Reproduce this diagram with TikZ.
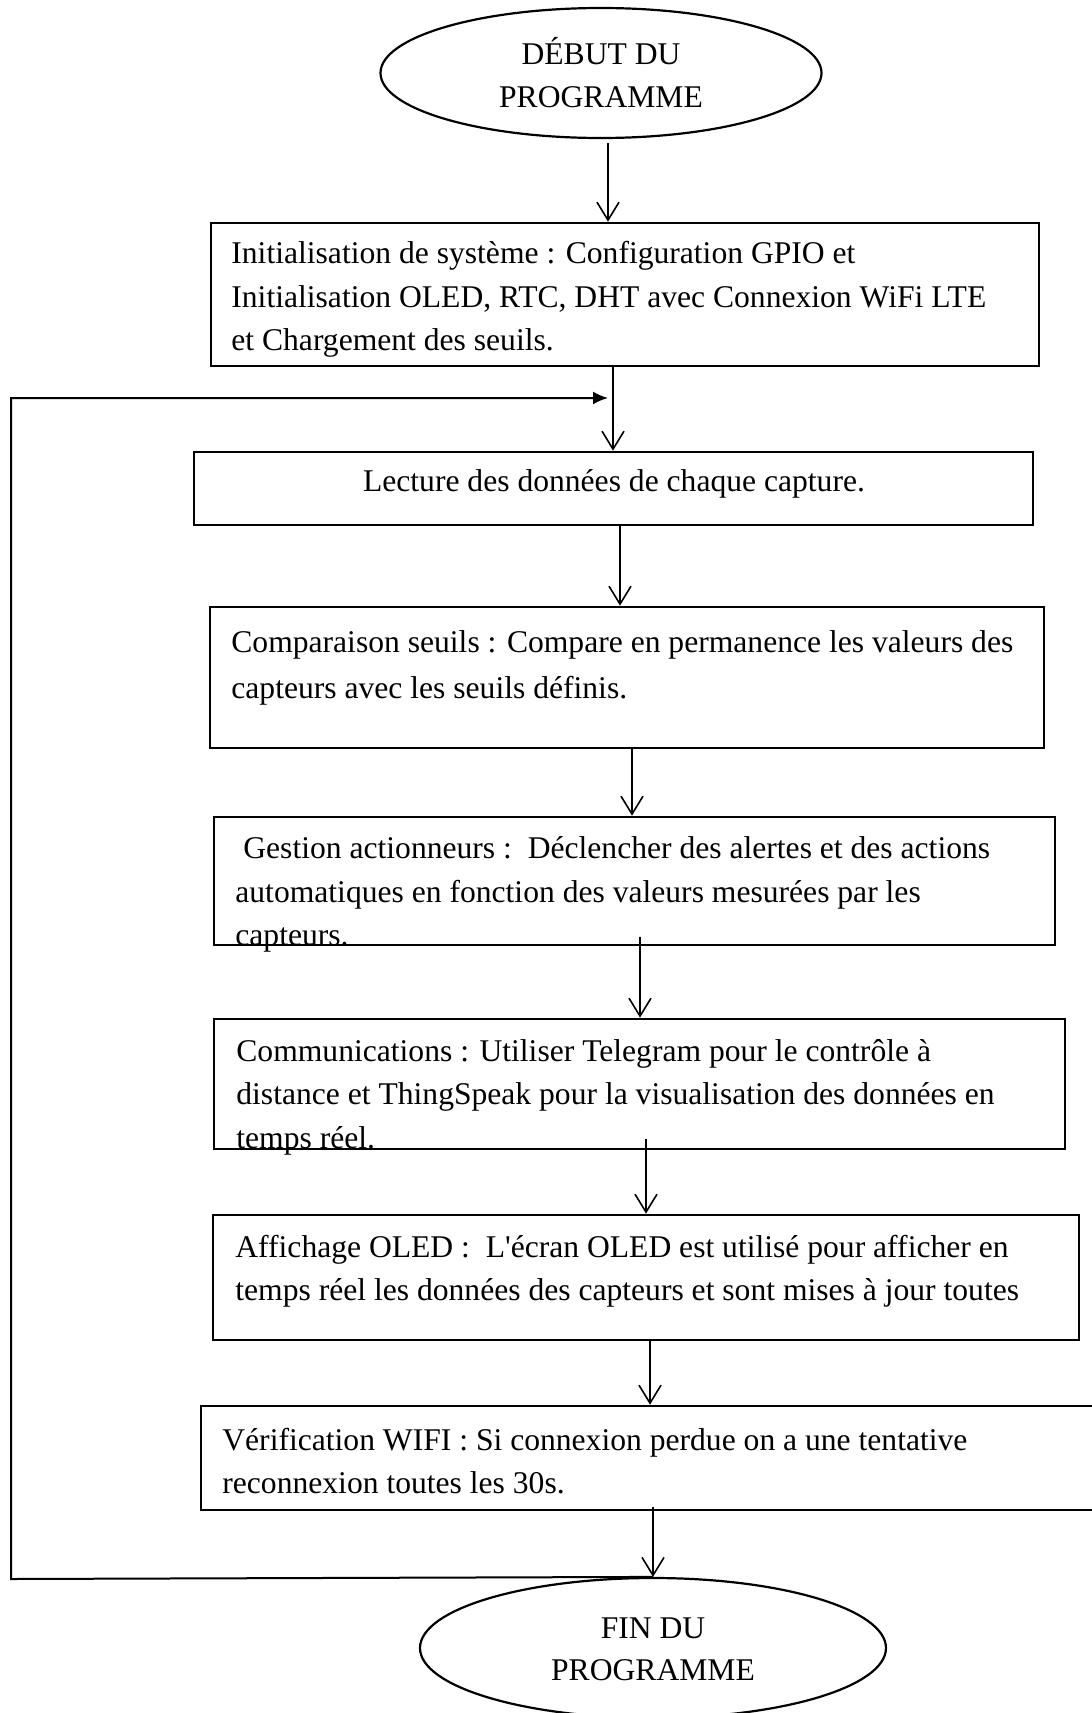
\documentclass[tikz,border=0pt]{standalone}
\usepackage{fontspec}
\setmainfont{Liberation Serif}
\usetikzlibrary{arrows.meta,shapes.geometric}

\tikzset{
  box/.style={draw, line width=1.3pt, rectangle, inner sep=0pt},
  oval/.style={draw, line width=1.1pt, ellipse, inner sep=0pt},
  txt/.style={anchor=base west, inner sep=0pt, font=\fontsize{15.8pt}{21.5pt}\selectfont},
  ctxt/.style={txt, anchor=base},
  flow/.style={line width=0.8pt, -{Straight Barb[length=9pt,width=11pt,line width=0.8pt]}},
  back/.style={line width=1pt, -{Latex[length=7.5pt,width=6.5pt]}}
}

\begin{document}
\begin{tikzpicture}[x=0.5pt, y=-0.5pt]
\useasboundingbox (0,0) rectangle (1092,1713);
\clip (0,0) rectangle (1092,1713);
\fill[white] (0,0) rectangle (1092,1713);

% start and end terminals
\node[oval, minimum width=220.5pt, minimum height=65pt] (start) at (601,73) {};
\node[ctxt] (startA) at (601,64) {DÉBUT DU};
\node[ctxt] (startB) at (601,107) {PROGRAMME};

\node[oval, minimum width=233pt, minimum height=70pt] (stop) at (653,1648) {};
\node[ctxt] (stopA) at (653,1638) {FIN DU};
\node[ctxt] (stopB) at (653,1680) {PROGRAMME};

% process boxes
\node[box, minimum width=414pt,   minimum height=71.5pt] (b1) at (625,294.5) {};
\node[box, minimum width=419.5pt, minimum height=36.5pt] (b2) at (613.5,488.5) {};
\node[box, minimum width=417pt,   minimum height=70.5pt] (b3) at (627,677.5) {};
\node[box, minimum width=420.5pt, minimum height=64pt]   (b4) at (634.5,881) {};
\node[box, minimum width=425.5pt, minimum height=65pt]   (b5) at (639.5,1084) {};
\node[box, minimum width=433pt,   minimum height=62.5pt] (b6) at (646,1277.5) {};
\node[box, minimum width=449.5pt, minimum height=52pt]   (b7) at (650.5,1458) {};

% box texts
\node[txt] (t1a) at (231,263) {Initialisation de système : Configuration GPIO et};
\node[txt] (t1b) at (231,307) {Initialisation OLED, RTC, DHT avec Connexion WiFi LTE};
\node[txt] (t1c) at (231,350) {et Chargement des seuils.};

\node[ctxt] (t2a) at (614,491) {Lecture des données de chaque capture.};

\node[txt] (t3a) at (231,652) {Comparaison seuils : Compare en permanence les valeurs des};
\node[txt] (t3b) at (231,698) {capteurs avec les seuils définis.};

\node[txt] (t4a) at (243,858) {Gestion actionneurs :\ \ Déclencher des alertes et des actions};
\node[txt] (t4b) at (235,902) {automatiques en fonction des valeurs mesurées par les};
\node[txt] (t4c) at (235,945) {capteurs.};

\node[txt] (t5a) at (236,1061) {Communications : Utiliser Telegram pour le contrôle à};
\node[txt] (t5b) at (236,1104) {distance et ThingSpeak pour la visualisation des données en};
\node[txt] (t5c) at (236,1148) {temps réel.};

\node[txt] (t6a) at (235,1257) {Affichage OLED :\ \ L\textquotesingle écran OLED est utilisé pour afficher en};
\node[txt] (t6b) at (235,1300) {temps réel les données des capteurs et sont mises à jour toutes};

\node[txt] (t7a) at (222,1450) {Vérification WIFI : Si connexion perdue on a une tentative};
\node[txt] (t7b) at (222,1493) {reconnexion toutes les 30s.};

% connector end points
\coordinate (a1) at (608,143);
\coordinate (a2) at (613,0);
\coordinate (a3) at (620,0);
\coordinate (a4) at (632,0);
\coordinate (a5s) at (640,937);
\coordinate (a6s) at (646,1139);
\coordinate (a7) at (650,0);
\coordinate (a8s) at (653,1507);
\coordinate (loopL) at (11,1579);
\coordinate (loopT) at (11,398);
\coordinate (loopE) at (608,398);

% main flow
\draw[flow] (a1) -- (b1.north -| a1);
\draw[flow] (b1.south -| a2) -- (b2.north -| a2);
\draw[flow] (b2.south -| a3) -- (b3.north -| a3);
\draw[flow] (b3.south -| a4) -- (b4.north -| a4);
\draw[flow] (a5s) -- (b5.north -| a5s);
\draw[flow] (a6s) -- (b6.north -| a6s);
\draw[flow] (b6.south -| a7) -- (b7.north -| a7);
\draw[flow] (a8s) -- (stop.north -| a8s);

% loop back to the reading step
\draw[back] (stop.north) -- (loopL) -- (loopT) -- (loopE);
\end{tikzpicture}
\end{document}
